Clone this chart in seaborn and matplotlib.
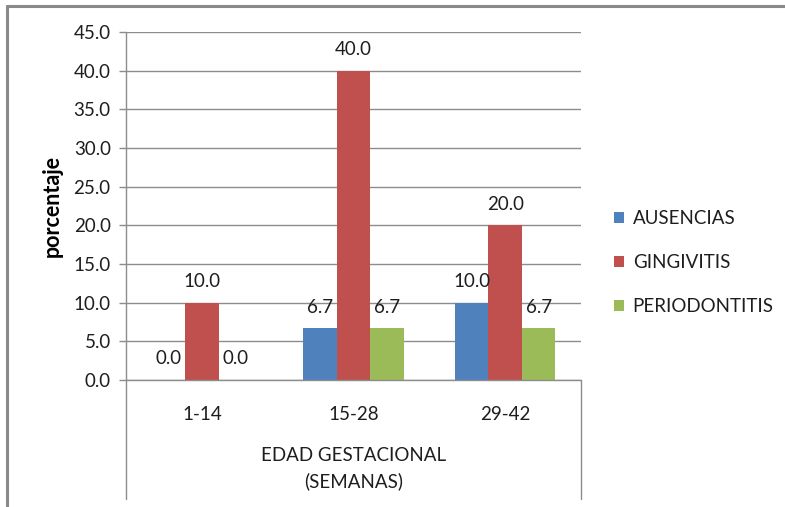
import matplotlib
matplotlib.use("Agg")
import matplotlib.pyplot as plt
from matplotlib.patches import Patch
from matplotlib.lines import Line2D
import seaborn as sns
import pandas as pd

# Data: percentage of each oral condition by gestational age group
categories = ["1-14", "15-28", "29-42"]
series_names = ["AUSENCIAS", "GINGIVITIS", "PERIODONTITIS"]
ausencias = [0.0, 6.7, 10.0]
gingivitis = [10.0, 40.0, 20.0]
periodontitis = [0.0, 6.7, 6.7]
y_ticks = [0.0, 5.0, 10.0, 15.0, 20.0, 25.0, 30.0, 35.0, 40.0, 45.0]

colors = ["#4F81BD", "#C0504D", "#9BBB59"]
grid_color = "#8C8C8C"
text_color = "#1E1E1E"
fs = 13.5

rows = []
for name, values in zip(series_names, [ausencias, gingivitis, periodontitis]):
    for cat, v in zip(categories, values):
        rows.append({"edad": cat, "condicion": name, "porcentaje": v})
df = pd.DataFrame(rows)

sns.set_theme(style="white")
plt.rcParams["font.family"] = ["Lato", "DejaVu Sans"]

fig = plt.figure(figsize=(7.85, 5.07), dpi=100)
ax = fig.add_axes([126 / 785, 1 - 380 / 507, (581 - 126) / 785, (380 - 32) / 507])

sns.barplot(
    data=df, x="edad", y="porcentaje", hue="condicion",
    order=categories, hue_order=series_names, palette=colors,
    width=0.663, saturation=1, legend=False, linewidth=0, ax=ax,
)

ax.set_ylim(0, 45)
ax.set_xlim(-0.5, 2.5)
ax.set_yticks(y_ticks)
ax.set_yticklabels([f"{t:.1f}" for t in y_ticks], fontsize=fs, color=text_color)
ax.yaxis.grid(True, color=grid_color, linewidth=1)
ax.set_axisbelow(True)
ax.tick_params(axis="y", which="major", length=5, width=1, color=grid_color,
               left=True, pad=6)
ax.tick_params(axis="x", length=0, pad=19)
ax.set_xticks(range(len(categories)))
ax.set_xticklabels(categories, fontsize=fs, color=text_color)
for s in ax.spines.values():
    s.set_visible(False)

# Axis lines: left value axis and the category box edges running down below the labels
for x in (0, 1):
    ax.add_line(Line2D([x, x], [1 if x == 0 else 0, -0.342], transform=ax.transAxes,
                       color=grid_color, linewidth=1, clip_on=False))
ax.add_line(Line2D([0, 1], [0, 0], transform=ax.transAxes,
                   color=grid_color, linewidth=1, clip_on=False))

ax.set_xlabel("EDAD GESTACIONAL\n(SEMANAS)", fontsize=fs, color=text_color,
              labelpad=17, linespacing=1.55)
ax.set_ylabel("porcentaje", fontsize=15.5, fontweight="bold", color="black", labelpad=8)

for container in ax.containers:
    ax.bar_label(container, fmt="%.1f", padding=9, fontsize=fs, color=text_color)

handles = [Patch(facecolor=c, edgecolor="none") for c in colors]
fig.legend(handles, series_names, loc="upper left", bbox_to_anchor=(597 / 785, 1 - 193 / 507),
           frameon=False, fontsize=fs, handlelength=0.55, handleheight=0.55,
           handletextpad=0.45, labelspacing=1.45, labelcolor=text_color)

# Outer chart border (top and left edges)
fig.add_artist(Line2D([7 / 785, 1], [1 - 6 / 507, 1 - 6 / 507], color="#8A8A8A",
                      linewidth=2.2, transform=fig.transFigure))
fig.add_artist(Line2D([7 / 785, 7 / 785], [1 - 6 / 507, 0], color="#8A8A8A",
                      linewidth=2.2, transform=fig.transFigure))

fig.savefig("out.png", dpi=100)
